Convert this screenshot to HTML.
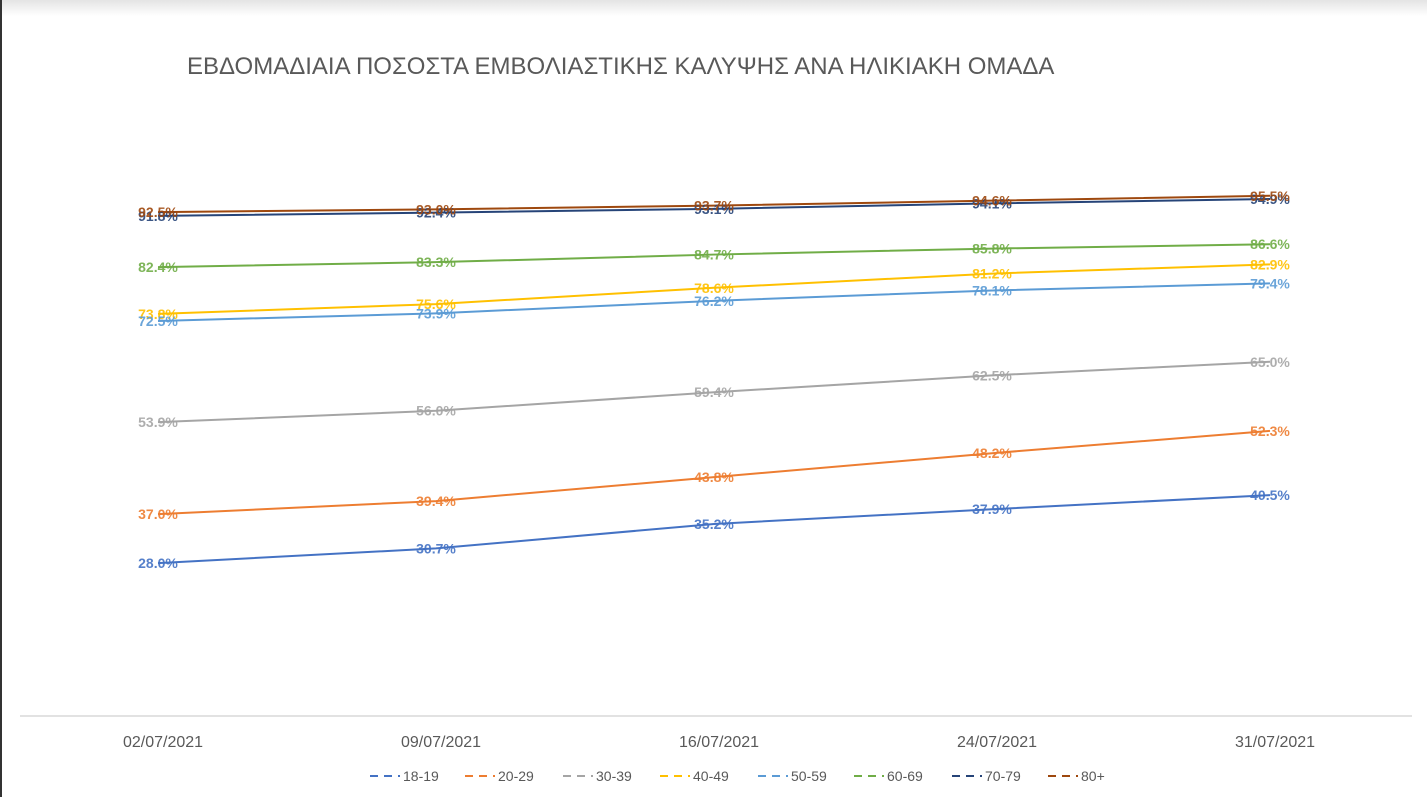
<!DOCTYPE html>
<html><head><meta charset="utf-8"><style>
html,body{margin:0;padding:0;background:#fff;}
body{width:1427px;height:797px;overflow:hidden;position:relative;font-family:"Liberation Sans","DejaVu Sans",sans-serif;}
#topbar{position:absolute;left:0;top:0;width:1427px;height:16px;background:linear-gradient(#e4e4e4,#fff);}
#leftbar{position:absolute;left:0;top:0;width:2px;height:797px;background:#333;}
svg{position:absolute;left:0;top:0;}
</style></head><body>
<div id="topbar"></div>
<div id="leftbar"></div>
<svg id="chart" width="1427" height="797">
<text x="187" y="74" font-size="24" fill="#595959">ΕΒΔΟΜΑΔΙΑΙΑ ΠΟΣΟΣΤΑ ΕΜΒΟΛΙΑΣΤΙΚΗΣ ΚΑΛΥΨΗΣ ΑΝΑ ΗΛΙΚΙΑΚΗ ΟΜΑΔΑ</text>
<line x1="20" y1="716" x2="1412" y2="716" stroke="#d9d9d9" stroke-width="1.5"/>
<g id="marks"></g>
</svg>
<script>
const categories=["02/07/2021","09/07/2021","16/07/2021","24/07/2021","31/07/2021"];
const seriesNames=["18-19","20-29","30-39","40-49","50-59","60-69","70-79","80+"];
const s1819=[28.0,30.7,35.2,37.9,40.5];
const s2029=[37.0,39.4,43.8,48.2,52.3];
const s3039=[53.9,56.0,59.4,62.5,65.0];
const s4049=[73.8,75.6,78.6,81.2,82.9];
const s5059=[72.5,73.9,76.2,78.1,79.4];
const s6069=[82.4,83.3,84.7,85.8,86.6];
const s7079=[91.8,92.4,93.1,94.1,94.9];
const s80=[92.5,93.0,93.7,94.6,95.5];
const colors=["#4472C4","#ED7D31","#A5A5A5","#FFC000","#5B9BD5","#70AD47","#264478","#9E480E"];
const allSeries=[s1819,s2029,s3039,s4049,s5059,s6069,s7079,s80];
const NS="http://www.w3.org/2000/svg";
function xPos(i){return 158+i*278;}
function yPos(v){return 715.5-v*5.442;}
const g=document.getElementById('marks');
function mk(t,a){const e=document.createElementNS(NS,t);for(const k in a)e.setAttribute(k,a[k]);return e;}
categories.forEach((c,i)=>{
  const t=mk('text',{x:xPos(i)+5,y:747,'font-size':16,fill:'#595959','text-anchor':'middle'});
  t.textContent=c;
  
  
  g.appendChild(t);
});
allSeries.forEach((s,k)=>{
  const p=mk('polyline',{points:s.map((v,i)=>xPos(i)+','+yPos(v)).join(' '),fill:'none',stroke:colors[k],'stroke-width':2});
  
  
  g.appendChild(p);
});
allSeries.forEach((s,k)=>{
  s.forEach((v,i)=>{
    const t=mk('text',{x:xPos(i),y:yPos(v)+5,'font-size':14,'font-weight':'bold',fill:colors[k],'fill-opacity':0.9,'text-anchor':'middle'});
    t.textContent=v.toFixed(1)+'%';
    
    
    g.appendChild(t);
  });
});
const legX=[370,465,563,660,758,854,952,1048];
seriesNames.forEach((n,k)=>{
  const lg=mk('g',{});
  
  
  lg.appendChild(mk('line',{x1:legX[k],y1:776,x2:legX[k]+30,y2:776,stroke:colors[k],'stroke-width':2,'stroke-dasharray':'8,6'}));
  const t=mk('text',{x:legX[k]+33,y:781,'font-size':14,fill:'#595959'});
  t.textContent=n;
  lg.appendChild(t);
  g.appendChild(lg);
});
</script>
</body></html>
